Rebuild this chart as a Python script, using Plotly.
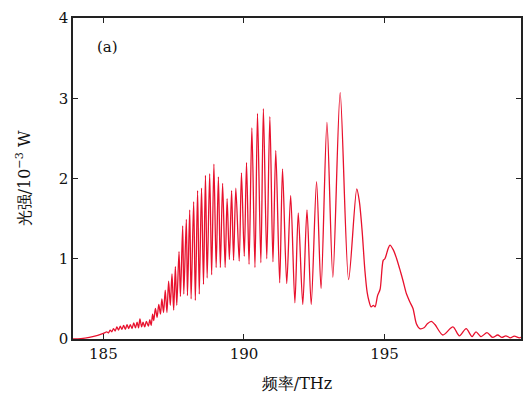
import plotly.graph_objects as go

# frequency (THz) and optical power (1e-3 W), read from peaks / troughs of the reference
freq = [
    183.92, 184.2, 184.5, 184.8, 185.0, 185.06,
    185.12, 185.18, 185.24, 185.30, 185.36, 185.42, 185.48, 185.54, 185.60, 185.66,
    185.72, 185.78, 185.84, 185.90, 185.96, 186.02, 186.08, 186.14, 186.20, 186.25,
    186.30, 186.36, 186.41, 186.47, 186.53, 186.60, 186.65, 186.70,
    186.75, 186.79, 186.85, 186.91, 186.97, 187.03, 187.08, 187.14, 187.20, 187.26,
    187.32, 187.38, 187.44, 187.50, 187.56, 187.61, 187.69, 187.74, 187.82, 187.86,
    187.95, 187.99, 188.07, 188.12, 188.21, 188.27, 188.35, 188.41, 188.49, 188.56,
    188.63, 188.69, 188.78, 188.85, 188.93, 189.01, 189.09, 189.16, 189.24, 189.33,
    189.40, 189.48, 189.56, 189.63, 189.71, 189.83, 189.91, 190.01, 190.09, 190.18,
    190.28, 190.39, 190.48, 190.60, 190.69, 190.81, 190.92, 191.03, 191.13, 191.27,
    191.37, 191.52, 191.66, 191.81, 191.93, 192.09, 192.24, 192.39, 192.58, 192.74,
    192.95, 193.16, 193.42, 193.72, 194.01, 194.10, 194.20, 194.30, 194.38, 194.44,
    194.52, 194.60, 194.66, 194.75, 194.84, 194.95, 195.01, 195.13, 195.19, 195.31,
    195.42, 195.54, 195.66, 195.78, 195.90, 196.01, 196.13, 196.25, 196.40, 196.52,
    196.66, 196.79, 197.07, 197.43, 197.66, 197.90, 198.11, 198.25, 198.43, 198.64,
    198.84, 199.02, 199.17, 199.31, 199.47, 199.61, 199.79, 199.85,
]
power = [
    0.0, 0.005, 0.02, 0.045, 0.07, 0.08,
    0.09, 0.075, 0.11, 0.09, 0.13, 0.10, 0.15, 0.11, 0.16, 0.12,
    0.17, 0.12, 0.18, 0.13, 0.18, 0.13, 0.20, 0.14, 0.21, 0.14,
    0.25, 0.15, 0.21, 0.15, 0.22, 0.16, 0.24, 0.17,
    0.31, 0.23, 0.38, 0.27, 0.43, 0.31, 0.50, 0.33, 0.61, 0.33,
    0.72, 0.42, 0.81, 0.36, 0.90, 0.42, 1.09, 0.53, 1.41, 0.56,
    1.49, 0.54, 1.61, 0.50, 1.71, 0.48, 1.85, 0.56, 1.88, 0.68,
    2.04, 0.76, 2.06, 0.80, 2.18, 0.89, 2.02, 0.89, 1.94, 0.89,
    1.75, 0.99, 1.85, 0.98, 1.88, 0.97, 2.07, 1.03, 2.20, 0.93,
    2.63, 0.89, 2.81, 0.95, 2.87, 1.00, 2.77, 0.96, 2.35, 0.70,
    2.12, 0.69, 1.79, 0.45, 1.57, 0.43, 1.61, 0.43, 1.96, 0.63,
    2.70, 0.77, 3.07, 0.74, 1.87, 1.72, 1.35, 0.85, 0.58, 0.48,
    0.40, 0.42, 0.40, 0.54, 0.62, 0.98, 1.00, 1.13, 1.17, 1.11,
    1.01, 0.87, 0.72, 0.56, 0.46, 0.38, 0.19, 0.13, 0.14, 0.19,
    0.22, 0.18, 0.05, 0.15, 0.04, 0.13, 0.03, 0.09, 0.03, 0.08,
    0.02, 0.05, 0.02, 0.04, 0.015, 0.035, 0.015, 0.02,
]

x_ticks = [185, 190, 195]
y_ticks = [0, 1, 2, 3, 4]

FONT = "DejaVu Serif"
INK = "#111111"

fig = go.Figure()
fig.add_trace(go.Scatter(
    x=freq, y=power, mode="lines",
    line=dict(color="#e8112d", width=1.3, shape="spline", smoothing=0.8),
    showlegend=False,
))

fig.update_layout(
    width=532, height=405,
    margin=dict(l=73, r=9, t=12, b=66),
    plot_bgcolor="white", paper_bgcolor="white",
    font=dict(family=FONT, size=15, color=INK),
    xaxis=dict(
        range=[183.92, 199.85], tickvals=x_ticks,
        showgrid=False, zeroline=False, showline=True, linecolor="#222222", linewidth=1.5,
        mirror="ticks", ticks="inside", ticklen=5, tickwidth=1, tickcolor="#222222",
        tickfont=dict(family=FONT, size=15, color=INK),
        title=dict(text="频率/THz", font=dict(family=FONT, size=16, color=INK), standoff=16),
    ),
    yaxis=dict(
        range=[0, 4], tickvals=y_ticks,
        showgrid=False, zeroline=False, showline=True, linecolor="#222222", linewidth=1.5,
        mirror="ticks", ticks="inside", ticklen=5, tickwidth=1, tickcolor="#222222",
        tickfont=dict(family=FONT, size=15, color=INK),
        title=dict(text="光强/10<sup>−3</sup> W", font=dict(family=FONT, size=16, color=INK), standoff=24),
    ),
    annotations=[dict(x=185.15, y=3.64, xref="x", yref="y", text="(a)", showarrow=False,
                      xanchor="center", font=dict(family=FONT, size=15, color=INK))],
)

fig.write_html("out.html")
